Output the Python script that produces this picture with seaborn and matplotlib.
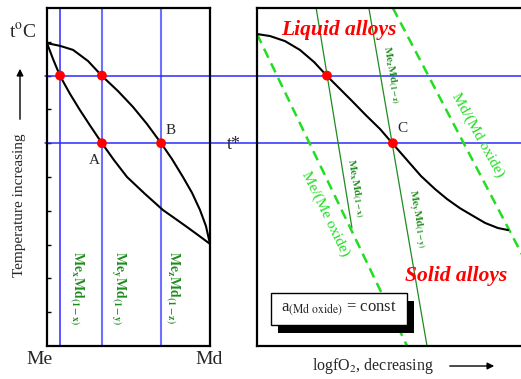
import matplotlib
matplotlib.use("Agg")
import matplotlib.pyplot as plt
import matplotlib.patches as mpatches
import seaborn as sns

# ---- left panel: composition (Me = 0 ... Md = 1) vs temperature (0..10)
liq_x = [0.0, 0.08, 0.16, 0.252, 0.337, 0.436, 0.528, 0.613, 0.70, 0.767, 0.834,
         0.89, 0.939, 0.975, 1.0]
liq_t = [8.96, 8.88, 8.76, 8.43, 7.99, 7.54, 7.07, 6.57, 6.0, 5.53, 5.0,
         4.53, 4.02, 3.55, 3.02]
sol_x = [0.0, 0.037, 0.08, 0.141, 0.202, 0.27, 0.337, 0.411, 0.491, 0.601, 0.712,
         0.789, 0.859, 0.933, 1.0]
sol_t = [8.96, 8.49, 7.99, 7.46, 6.98, 6.48, 6.0, 5.5, 5.0, 4.5, 4.02,
         3.76, 3.52, 3.26, 3.02]
comp_lines = [0.08, 0.337, 0.70]
comp_label_x = [0.184, 0.436, 0.773]
comp_labels = [r"$\mathbf{Me_xMd_{(1-x)}}$", r"$\mathbf{Me_yMd_{(1-y)}}$",
               r"$\mathbf{Me_zMd_{(1-z)}}$"]
temp_levels = [8.0, 6.0]
left_pts_x = [0.08, 0.337, 0.337, 0.70]
left_pts_t = [8.0, 8.0, 6.0, 6.0]

# ---- right panel: logfO2 (decreasing to the right) vs temperature
curve_f = [0.0, 0.385, 0.83, 1.27, 1.69, 2.07, 2.46, 2.81, 3.22, 3.64, 4.02,
           4.44, 4.85, 5.27, 5.62, 6.0, 6.39, 6.75, 7.13, 7.43]
curve_t = [9.23, 9.17, 9.02, 8.76, 8.40, 7.99, 7.60, 7.25, 6.83, 6.42, 5.98,
           5.50, 5.03, 4.64, 4.35, 4.08, 3.85, 3.64, 3.49, 3.43]
iso1_f, iso1_t = [1.75, 2.81], [10.0, 3.49]
iso2_f, iso2_t = [3.31, 5.03], [10.0, 0.0]
me_ox_f, me_ox_t = [0.0, 4.44], [9.23, 0.0]
md_ox_f, md_ox_t = [4.02, 9.26], [10.0, 0.0]
right_pts_f = [2.07, 4.02]
right_pts_t = [8.0, 6.0]

W, H = 521, 379
sns.set_theme(style="white", rc={"axes.edgecolor": "black"})
plt.rcParams["font.family"] = ["Liberation Serif", "DejaVu Serif"]
plt.rcParams["mathtext.fontset"] = "stix"

fig = plt.figure(figsize=(W / 100, H / 100), dpi=100)
axl = fig.add_axes([47 / W, 33 / H, 163 / W, 338 / H])
axr = fig.add_axes([257 / W, 33 / H, 268 / W, 338 / H])

dark_green = "#1f8c1f"
bright_green = "#22dd22"
blue = "#2b2bff"

# left panel
for i, c in enumerate(comp_lines):
    axl.axvline(c, color=blue if i == 0 else "#6e6eff", lw=1.1 if i == 0 else 1.5, zorder=1)
for t in temp_levels:
    axl.plot([-0.012, 1.29], [t, t], color=blue, lw=1.1, clip_on=False, zorder=1)
sns.lineplot(x=liq_x, y=liq_t, ax=axl, color="black", lw=1.5, sort=False, estimator=None, zorder=3)
sns.lineplot(x=sol_x, y=sol_t, ax=axl, color="black", lw=1.5, sort=False, estimator=None, zorder=3)
sns.scatterplot(x=left_pts_x, y=left_pts_t, ax=axl, color="red", s=50, edgecolor="none", zorder=5)
axl.set_xlim(0, 1)
axl.set_ylim(0, 10)
axl.set_xticks([])
axl.set_yticks(range(1, 10))
axl.set_yticklabels([])
axl.tick_params(axis="y", direction="in", length=3, width=1, left=True, color="black")
for s in axl.spines.values():
    s.set_linewidth(1.6)
for lx, lab in zip(comp_label_x, comp_labels):
    axl.text(lx, 2.8, lab, rotation=-90, ha="center", va="top",
             color=dark_green, fontsize=10)

# right panel
for t in temp_levels:
    axr.axhline(t, color=blue, lw=1.1, zorder=1)
sns.lineplot(x=iso1_f, y=iso1_t, ax=axr, color=dark_green, lw=0.9, estimator=None, zorder=2)
sns.lineplot(x=iso2_f, y=iso2_t, ax=axr, color=dark_green, lw=0.9, estimator=None, zorder=2)
sns.lineplot(x=me_ox_f, y=me_ox_t, ax=axr, color=bright_green, lw=1.8,
             linestyle=(0, (4, 2.5)), estimator=None, zorder=2)
sns.lineplot(x=md_ox_f, y=md_ox_t, ax=axr, color=bright_green, lw=1.8,
             linestyle=(0, (4, 2.5)), estimator=None, zorder=2)
sns.lineplot(x=curve_f, y=curve_t, ax=axr, color="black", lw=1.5, sort=False, estimator=None, zorder=3)
sns.scatterplot(x=right_pts_f, y=right_pts_t, ax=axr, color="red", s=50, edgecolor="none", zorder=5)
axr.set_xlim(0, 268 / 33.8)
axr.set_ylim(0, 10)
axr.set_xticks([])
axr.set_yticks([])
axr.spines["right"].set_visible(False)
for s in axr.spines.values():
    s.set_linewidth(1.6)


def ftext(x, y, s, **kw):
    fig.text(x / W, 1 - y / H, s, **kw)


def farrow(x0, y0, x1, y1):
    fig.add_artist(mpatches.FancyArrowPatch((x0 / W, 1 - y0 / H), (x1 / W, 1 - y1 / H),
                                            transform=fig.transFigure, arrowstyle="-|>",
                                            mutation_scale=10, lw=1, color="black"))


ftext(23, 32, r"t$^{\rm o}$C", fontsize=14, ha="center", va="center")
ftext(20, 205, "Temperature increasing", fontsize=11, rotation=90, ha="center", va="center")
farrow(20, 122, 20, 66)
ftext(39, 360, "Me", fontsize=14, ha="center", va="center")
ftext(209, 360, "Md", fontsize=14, ha="center", va="center")
ftext(94, 161, "A", fontsize=11, ha="center", va="center")
ftext(171, 131, "B", fontsize=11, ha="center", va="center")
ftext(234, 145, "t*", fontsize=13, ha="center", va="center")
ftext(402, 128, "C", fontsize=11, ha="center", va="center")

ftext(339, 30, "Liquid alloys", fontsize=15.5, color="red", weight="bold", style="italic",
      ha="center", va="center")
ftext(456, 276, "Solid alloys", fontsize=15.5, color="red", weight="bold", style="italic",
      ha="center", va="center")

kw = dict(ha="center", va="center", rotation_mode="anchor", color=dark_green, fontsize=8)
ftext(391, 75, r"$\mathbf{Me_zMd_{(1-z)}}$", rotation=-80, **kw)
ftext(355, 188, r"$\mathbf{Me_xMd_{(1-x)}}$", rotation=-80, **kw)
ftext(416, 219, r"$\mathbf{Me_yMd_{(1-y)}}$", rotation=-80, **kw)
ftext(478, 135, "Md/(Md oxide)", rotation=-61, ha="center", va="center",
      rotation_mode="anchor", color=bright_green, fontsize=11)
ftext(325, 214, "Me/(Me oxide)", rotation=-64, ha="center", va="center",
      rotation_mode="anchor", color=bright_green, fontsize=11)

# shadowed label box
fig.add_artist(mpatches.Rectangle((278 / W, 1 - 333 / H), 136 / W, 32 / H,
                                  transform=fig.transFigure, facecolor="black", edgecolor="none", zorder=6))
fig.add_artist(mpatches.Rectangle((271 / W, 1 - 325 / H), 136 / W, 32 / H,
                                  transform=fig.transFigure, facecolor="white", edgecolor="black",
                                  lw=1, zorder=7))
ftext(339, 309, r"a$_{\rm (Md\ oxide)}$ = const", fontsize=12, ha="center", va="center", zorder=8)

ftext(373, 366, r"logfO$_2$, decreasing", fontsize=11.5, ha="center", va="center")
farrow(447, 366, 497, 366)

fig.savefig("out.png", dpi=100)
